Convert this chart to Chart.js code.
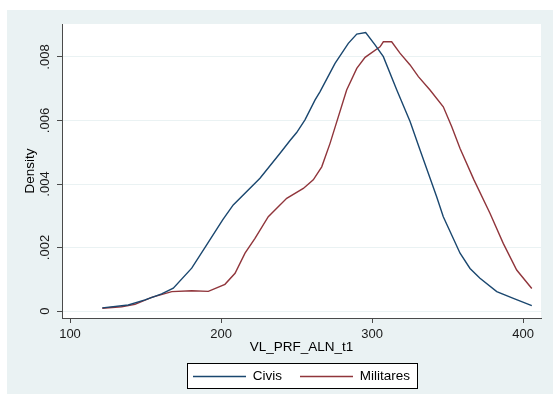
<!DOCTYPE html>
<html>
<head>
<meta charset="utf-8">
<script src="https://cdn.jsdelivr.net/npm/chart.js@4/dist/chart.umd.min.js"></script>
<style>
  html, body { margin: 0; padding: 0; background: #ffffff; }
  #c { display: block; }
</style>
</head>
<body>
<canvas id="c" width="553" height="403"></canvas>
<script>
// ---- data ----
const civisX = [121.4, 138.6, 149.7, 160.7, 168.4, 180.6, 190.5, 201.1, 208.1, 225.8, 239.1, 245.7, 250.1, 255.6, 262.3, 265.6, 275.5, 284.3, 289.9, 295.8, 302.0, 307.5, 316.4, 325.2, 331.8, 342.8, 347.2, 358.3, 364.9, 371.5, 382.6, 393.6, 405.8];
const civisY = [0.00010, 0.00019, 0.00035, 0.00054, 0.00072, 0.00135, 0.00208, 0.00287, 0.00334, 0.00418, 0.00497, 0.00537, 0.00562, 0.00602, 0.00665, 0.00691, 0.00780, 0.00843, 0.00872, 0.00877, 0.00838, 0.00801, 0.00696, 0.00597, 0.00507, 0.00360, 0.00297, 0.00182, 0.00134, 0.00103, 0.00061, 0.00040, 0.00017];
const militaresX = [121.4, 134.2, 143.0, 154.1, 167.4, 180.6, 191.6, 202.6, 209.3, 215.9, 222.5, 231.3, 243.5, 254.5, 261.1, 266.7, 272.2, 283.2, 289.9, 295.4, 305.3, 307.5, 313.0, 318.5, 325.2, 330.7, 338.4, 347.2, 352.8, 358.3, 367.5, 378.1, 386.9, 395.8, 405.8];
const militaresY = [0.000085, 0.000135, 0.00021, 0.00043, 0.00061, 0.00064, 0.00062, 0.00084, 0.00119, 0.00182, 0.00229, 0.00297, 0.00355, 0.00386, 0.00413, 0.00454, 0.00528, 0.00696, 0.00764, 0.00799, 0.00832, 0.00848, 0.00848, 0.00812, 0.00775, 0.00738, 0.00696, 0.00643, 0.00580, 0.00512, 0.00413, 0.00308, 0.00213, 0.00129, 0.00071];
const seriesNames = ["Civis", "Militares"];
const xTicks = [100, 200, 300, 400];
const yTicks = [0, 0.002, 0.004, 0.006, 0.008];
const xTitle = "VL_PRF_ALN_t1";
const yTitle = "Density";

// ---- styling ----
const FONT = "'Liberation Sans', Arial, Helvetica, sans-serif";
const BG = '#EAF2F3';
const AXIS = '#4a4a4a';
const C1 = '#1A476F';
const C2 = '#90353B';

const toPts = (xs, ys) => xs.map((x, i) => ({ x: x, y: ys[i] }));

const bgPlugin = {
  id: 'bg',
  beforeDraw(chart) {
    const ctx = chart.ctx;
    const a = chart.chartArea;
    ctx.save();
    ctx.fillStyle = '#ffffff';
    ctx.fillRect(0, 0, chart.width, chart.height);
    ctx.fillStyle = BG;
    ctx.fillRect(7, 10, chart.width - 7, 384);
    ctx.fillStyle = '#ffffff';
    ctx.fillRect(a.left, a.top, a.right - a.left, a.bottom - a.top);
    const lb = legendBox(chart);
    if (lb) ctx.fillRect(lb.x, lb.y, lb.w, lb.h);
    ctx.restore();
  },
  afterDraw(chart) {
    const lb = legendBox(chart);
    if (!lb) return;
    const ctx = chart.ctx;
    ctx.save();
    ctx.strokeStyle = '#000000';
    ctx.lineWidth = 1;
    ctx.strokeRect(Math.round(lb.x) + 0.5, Math.round(lb.y) + 0.5, Math.round(lb.w), Math.round(lb.h));
    ctx.restore();
  }
};

function legendBox(chart) {
  const lg = chart.legend;
  if (!lg || !lg.legendHitBoxes || !lg.legendHitBoxes.length) return null;
  const hb = lg.legendHitBoxes;
  const first = hb[0], last = hb[hb.length - 1];
  const cy = first.top + first.height / 2;
  const x0 = first.left - 6;
  const x1 = last.left + last.width + 7;
  return { x: x0, y: cy - 13.5, w: x1 - x0, h: 25 };
}

new Chart(document.getElementById('c'), {
  type: 'line',
  data: {
    datasets: [
      { label: seriesNames[0], data: toPts(civisX, civisY), borderColor: C1, backgroundColor: C1, borderWidth: 1.4, pointRadius: 0, tension: 0, fill: false },
      { label: seriesNames[1], data: toPts(militaresX, militaresY), borderColor: C2, backgroundColor: C2, borderWidth: 1.4, pointRadius: 0, tension: 0, fill: false }
    ]
  },
  options: {
    responsive: false,
    animation: false,
    devicePixelRatio: 1,
    layout: { padding: { left: 20, right: 12, top: 24, bottom: 9.75 } },
    plugins: {
      tooltip: { enabled: false },
      legend: {
        position: 'bottom',
        fullSize: false,
        labels: {
          usePointStyle: true,
          pointStyle: 'line',
          pointStyleWidth: 53,
          boxHeight: 2,
          padding: 18,
          color: '#000000',
          font: { family: FONT, size: 13.5 }
        }
      }
    },
    scales: {
      x: {
        type: 'linear',
        min: 94.7,
        max: 411.9,
        afterBuildTicks: s => { s.ticks = xTicks.map(v => ({ value: v })); },
        afterFit: s => { s.height = 33.75; },
        grid: { display: true, drawOnChartArea: false, tickLength: 5, tickColor: AXIS, tickWidth: 1 },
        border: { display: true, color: AXIS, width: 1 },
        ticks: { color: '#1a1a1a', padding: 4, maxRotation: 0, font: { family: FONT, size: 13 }, callback: v => String(v) },
        title: { display: true, text: xTitle, color: '#000000', font: { family: FONT, size: 13.5 }, padding: { top: 0, bottom: -4 } }
      },
      y: {
        type: 'linear',
        min: -0.00022,
        max: 0.009039,
        afterBuildTicks: s => { s.ticks = yTicks.map(v => ({ value: v })); },
        afterFit: s => { s.width = 42; },
        grid: { display: true, drawOnChartArea: true, color: BG, lineWidth: 1, tickLength: 5, tickColor: AXIS, tickWidth: 1 },
        border: { display: true, color: AXIS, width: 1 },
        ticks: {
          color: '#1a1a1a', padding: -1, minRotation: 90, maxRotation: 90, crossAlign: 'center',
          font: { family: FONT, size: 13 },
          callback: v => v === 0 ? '0' : v.toFixed(3).replace(/^0/, '')
        },
        title: { display: true, text: yTitle, color: '#000000', font: { family: FONT, size: 13.5 }, padding: { top: 2, bottom: 0 } }
      }
    }
  },
  plugins: [bgPlugin]
});
</script>
</body>
</html>
